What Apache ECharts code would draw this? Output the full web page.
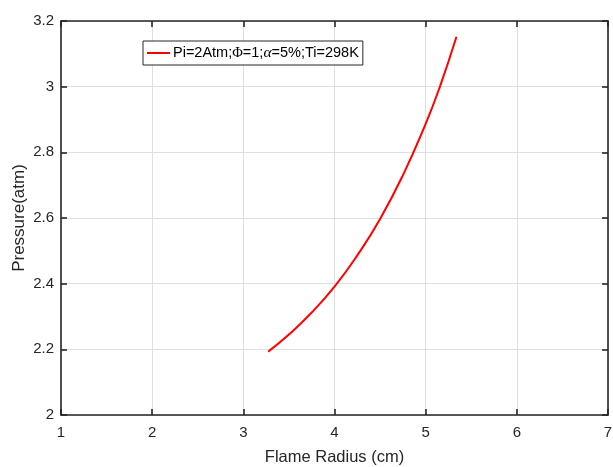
<!DOCTYPE html>
<html>
<head>
<meta charset="utf-8">
<script src="https://cdn.jsdelivr.net/npm/echarts@6/dist/echarts.min.js"></script>
<style>html,body{margin:0;padding:0;background:#fff;}#c{width:613px;height:467px;}</style>
</head>
<body>
<div id="c"></div>
<script>
// Data
var radius   = [3.273, 3.5, 3.75, 4.0, 4.25, 4.5, 4.75, 5.0, 5.15, 5.338];
var pressure = [2.193, 2.245, 2.312, 2.391, 2.486, 2.597, 2.730, 2.887, 2.995, 3.152];
var seriesName = 'Pi=2Atm;Φ=1;α=5%;Ti=298K';
var xTitle = 'Flame Radius (cm)';
var yTitle = 'Pressure(atm)';

var pts = radius.map(function (r, i) { return [r, pressure[i]]; });
var font = 'Liberation Sans, Arial, sans-serif';
var axisCol = '#262626';

var chart = echarts.init(document.getElementById('c'), null, {renderer: 'canvas'});
chart.setOption({
  animation: false,
  backgroundColor: '#fff',
  grid: {left: 61, right: 5, top: 21, bottom: 52, containLabel: false, outerBoundsMode: 'none'},
  legend: {
    left: 143, top: 41,
    padding: [4, 4, 4, 4],
    itemGap: 0,
    itemWidth: 23, itemHeight: 2,
    icon: 'rect',
    borderColor: axisCol, borderWidth: 1,
    backgroundColor: '#fff',
    data: [seriesName],
    formatter: function () {
      return 'Pi=2Atm;{s|Φ}=1;{a|α}=5%;Ti=298K';
    },
    textStyle: {
      fontFamily: font, fontSize: 14.5, color: '#000', padding: [0, 0, 0, -2],
      rich: {
        s: {fontFamily: 'Liberation Serif, Times New Roman, serif', fontSize: 14.5, color: '#000'},
        a: {fontFamily: 'Liberation Serif, Times New Roman, serif', fontStyle: 'italic', fontSize: 15.5, color: '#000'}
      }
    }
  },
  xAxis: [{
    type: 'value', min: 1, max: 7, interval: 1,
    name: xTitle, nameLocation: 'middle', nameGap: 34,
    nameTextStyle: {fontFamily: font, fontSize: 16.5, color: axisCol},
    axisLine: {show: true, onZero: false, lineStyle: {color: axisCol, width: 1.6}},
    axisTick: {show: true, inside: true, length: 6, lineStyle: {color: axisCol, width: 1.6}},
    axisLabel: {fontFamily: font, fontSize: 15, color: axisCol, margin: 10},
    splitLine: {show: true, lineStyle: {color: '#dfdfdf', width: 1}}
  }, {
    type: 'value', min: 1, max: 7, interval: 1, position: 'top',
    axisLine: {show: true, onZero: false, lineStyle: {color: axisCol, width: 1.6}},
    axisTick: {show: true, inside: true, length: 6, lineStyle: {color: axisCol, width: 1.6}},
    axisLabel: {show: false}, splitLine: {show: false}
  }],
  yAxis: [{
    type: 'value', min: 2, max: 3.2, interval: 0.2,
    name: yTitle, nameLocation: 'middle', nameGap: 33, nameMoveOverlap: false,
    nameTextStyle: {fontFamily: font, fontSize: 17, color: axisCol},
    axisLine: {show: true, onZero: false, lineStyle: {color: axisCol, width: 1.6}},
    axisTick: {show: true, inside: true, length: 6, lineStyle: {color: axisCol, width: 1.6}},
    axisLabel: {fontFamily: font, fontSize: 15, color: axisCol, margin: 7,
      formatter: function (v) { return String(Math.round(v * 10) / 10); }},
    splitLine: {show: true, lineStyle: {color: '#dfdfdf', width: 1}}
  }, {
    type: 'value', min: 2, max: 3.2, interval: 0.2, position: 'right',
    axisLine: {show: true, onZero: false, lineStyle: {color: axisCol, width: 1.6}},
    axisTick: {show: true, inside: true, length: 6, lineStyle: {color: axisCol, width: 1.6}},
    axisLabel: {show: false}, splitLine: {show: false}
  }],
  series: [{
    name: seriesName,
    type: 'line',
    data: pts,
    smooth: true,
    showSymbol: false,
    symbol: 'none',
    itemStyle: {color: '#ff0000'},
    lineStyle: {color: '#ff0000', width: 2}
  }]
});
</script>
</body>
</html>
